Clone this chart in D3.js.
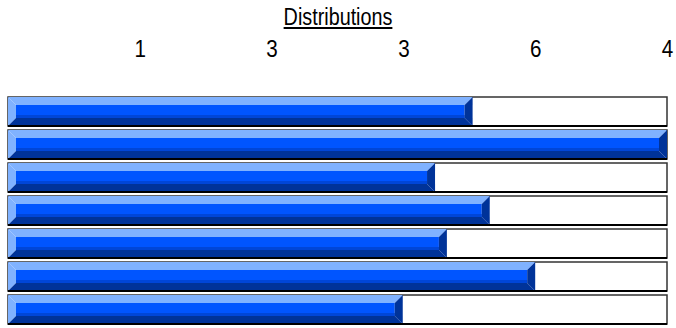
<!DOCTYPE html>
<html>
<head>
<meta charset="utf-8">
<script src="https://cdn.jsdelivr.net/npm/d3@7"></script>
<style>
  html, body { margin: 0; padding: 0; background: #ffffff; }
  svg { display: block; font-family: "Liberation Sans", Arial, sans-serif; }
</style>
</head>
<body>
<svg id="chart" width="676" height="328"></svg>
<script>
// Rows of the distribution chart (top to bottom)
const categories = ["A", "B", "C", "D", "E", "F", "G"];
// Filled share of each row, in percent of the full box
const values = [70.5, 100, 64.8, 73.1, 66.6, 80.0, 59.9];
// Scale positions and the labels printed above them
const tickValues = [20, 40, 60, 80, 100];
const tickLabels = ["1", "3", "3", "6", "4"];
const title = "Distributions";

const svg = d3.select("#chart");
const font = "\"Liberation Sans\", Arial, sans-serif";
const narrow = 0.86; // horizontal squeeze for a condensed look

const x = d3.scaleLinear().domain([0, 100]).range([8, 667]);
const y = d3.scaleBand().domain(categories).range([97, 324]).paddingInner(4 / 33).paddingOuter(0);

// Title with underline
const titleText = svg.append("text")
  .attr("transform", `translate(338,25) scale(${narrow},1)`)
  .attr("text-anchor", "middle")
  .attr("font-family", font)
  .attr("font-size", 23)
  .attr("fill", "#000")
  .text(title);
const tw = titleText.node().getBBox().width * narrow;
svg.append("rect")
  .attr("x", 338 - tw / 2).attr("y", 27)
  .attr("width", tw).attr("height", 2)
  .attr("fill", "#000");

// Top axis labels
const axis = d3.axisTop(x)
  .tickValues(tickValues)
  .tickFormat((d, i) => tickLabels[i])
  .tickSize(0)
  .tickPadding(0);
const axisG = svg.append("g").attr("transform", "translate(0,57)").call(axis);
axisG.select(".domain").remove();
axisG.selectAll("text")
  .attr("font-family", font)
  .attr("font-size", 24)
  .attr("fill", "#000")
  .attr("dy", 0)
  .attr("transform", `scale(${narrow},1)`);

// Bars: white box with a bevelled blue fill
const bev = 8;
const rows = svg.append("g").selectAll("g")
  .data(categories.map((c, i) => ({ c, v: values[i] })))
  .join("g");

rows.append("rect")
  .attr("x", x(0)).attr("y", d => y(d.c))
  .attr("width", x(100) - x(0)).attr("height", y.bandwidth())
  .attr("fill", "#fff").attr("stroke", "#333").attr("stroke-width", 1.5);

function poly(pts) { return pts.map(p => p.join(",")).join(" "); }

rows.each(function (d) {
  const g = d3.select(this);
  const x0 = x(0), x1 = x(d.v);
  const y0 = y(d.c), y1 = y0 + y.bandwidth();
  // centre face
  g.append("rect").attr("x", x0 + bev).attr("y", y0 + bev)
    .attr("width", Math.max(0, x1 - x0 - 2 * bev)).attr("height", y1 - y0 - 2 * bev)
    .attr("fill", "#0055ff");
  g.append("rect").attr("x", x0 + bev).attr("y", y1 - bev - 3)
    .attr("width", Math.max(0, x1 - x0 - 2 * bev)).attr("height", 3)
    .attr("fill", "#0046d8");
  // light top and left edges
  g.append("polygon").attr("fill", "#80b2ff")
    .attr("points", poly([[x0, y0], [x1, y0], [x1 - bev, y0 + bev], [x0 + bev, y0 + bev]]));
  g.append("polygon").attr("fill", "#80b2ff")
    .attr("points", poly([[x0, y0], [x0 + bev, y0 + bev], [x0 + bev, y1 - bev], [x0, y1]]));
  // dark bottom and right edges
  g.append("polygon").attr("fill", "#003399")
    .attr("points", poly([[x0, y1], [x0 + bev, y1 - bev], [x1 - bev, y1 - bev], [x1, y1]]));
  g.append("polygon").attr("fill", "#003399")
    .attr("points", poly([[x1, y0], [x1, y1], [x1 - bev, y1 - bev], [x1 - bev, y0 + bev]]));
});

// dark base line under each box
rows.append("rect")
  .attr("x", x(0)).attr("y", d => y(d.c) + y.bandwidth() - 1)
  .attr("width", x(100) - x(0)).attr("height", 2)
  .attr("fill", "#000");
</script>
</body>
</html>
